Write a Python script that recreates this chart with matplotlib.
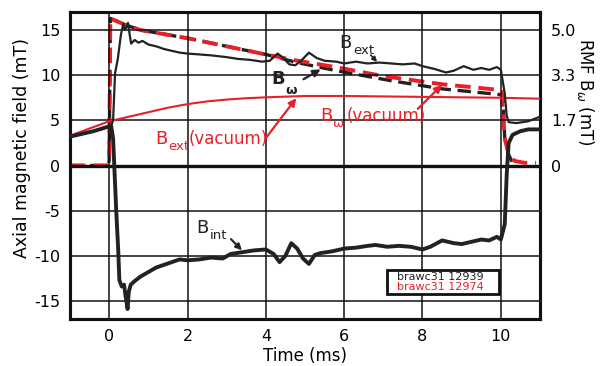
import matplotlib
matplotlib.use('Agg')
import matplotlib.pyplot as plt
from matplotlib.patches import Rectangle

plt.rcParams['axes.unicode_minus'] = False

RED = '#e8202a'
INK = '#222222'

# shot 12939: external field (thin) and internal field (thick), mT
t_ext = [-1.0, -0.7, -0.4, -0.1, 0.05, 0.10, 0.15, 0.22, 0.30, 0.36, 0.40, 0.44,
         0.48, 0.52, 0.56, 0.65, 0.75, 0.85, 1.0, 1.2, 1.4, 1.6, 1.8, 2.0, 2.3,
         2.6, 3.0, 3.3, 3.6, 3.9, 4.1, 4.3, 4.45, 4.6, 4.75, 4.9, 5.1, 5.3, 5.5,
         5.8, 6.0, 6.3, 6.6, 6.9, 7.2, 7.5, 7.8, 8.0, 8.3, 8.6, 8.8, 9.05, 9.3,
         9.5, 9.7, 9.9, 10.0, 10.1, 10.15, 10.2, 10.4, 10.7, 11.0]
b_ext = [3.2, 3.5, 3.8, 4.2, 4.4, 5.0, 10.2, 11.8, 14.5, 15.7, 15.0, 15.3,
         15.8, 14.6, 13.5, 13.9, 13.6, 13.8, 13.4, 13.2, 12.9, 12.7, 12.5, 12.4, 12.3,
         12.2, 12.0, 11.8, 11.7, 11.5, 11.6, 12.4, 11.9, 11.2, 11.1, 11.6, 12.5, 11.9, 11.6,
         11.5, 11.3, 11.5, 11.3, 11.4, 11.3, 11.2, 11.3, 11.0, 10.7, 10.3, 10.5, 11.0, 10.6,
         10.8, 10.6, 10.9, 10.6, 8.0, 5.5, 4.8, 4.7, 4.9, 5.4]

t_int = [-1.0, -0.7, -0.4, -0.1, 0.05, 0.10, 0.13, 0.18, 0.23, 0.26, 0.32, 0.38,
         0.42, 0.47, 0.50, 0.55, 0.65, 0.8, 1.0, 1.2, 1.4, 1.6, 1.8, 2.0, 2.3,
         2.6, 2.9, 3.1, 3.4, 3.7, 4.0, 4.2, 4.35, 4.5, 4.65, 4.8, 4.95, 5.1, 5.25,
         5.4, 5.7, 6.0, 6.3, 6.6, 6.8, 7.1, 7.4, 7.7, 8.0, 8.2, 8.5, 8.8, 9.0,
         9.2, 9.5, 9.7, 9.9, 10.0, 10.1, 10.15, 10.2, 10.3, 10.5, 10.7, 11.0]
b_int = [3.2, 3.5, 3.8, 4.2, 4.4, 3.0, 0.0, -5.0, -9.3, -12.7, -13.4, -13.2,
         -14.5, -15.9, -14.0, -13.2, -12.8, -12.3, -11.8, -11.3, -11.0, -10.7, -10.4, -10.5, -10.4,
         -10.2, -10.3, -9.8, -9.6, -9.4, -9.3, -9.8, -10.7, -10.0, -8.6, -9.2, -10.3, -10.9, -9.9,
         -9.7, -9.5, -9.2, -9.1, -8.9, -8.8, -9.0, -8.9, -9.0, -9.3, -9.0, -8.3, -8.6, -8.7,
         -8.5, -8.2, -8.3, -7.9, -8.2, -6.5, -1.0, 2.5, 3.4, 3.8, 4.0, 4.0]

# shot 12974 (vacuum): external field, mT
t_vac = [-1.0, -0.5, 0.0, 0.5, 1.0, 1.5, 2.0, 2.5, 3.0, 3.5, 4.0, 5.0, 6.0,
         7.0, 8.0, 9.0, 10.0, 11.0]
b_vac = [3.3, 4.1, 4.9, 5.4, 5.9, 6.4, 6.8, 7.1, 7.3, 7.45, 7.55, 7.7, 7.7,
         7.65, 7.6, 7.55, 7.5, 7.4]

# RMF amplitude, right axis units (mT)
t_rmf_vac = [-1.0, -0.05, 0.0, 0.03, 0.4, 0.8, 2.0, 3.0, 4.0, 4.8, 5.8, 7.0,
             8.5, 9.9, 10.02, 10.1, 10.2, 10.35, 10.6, 10.9]
rmf_vac = [0.0, 0.0, 0.17, 5.43, 5.2, 5.0, 4.7, 4.4, 4.1, 3.87, 3.63, 3.3,
           3.0, 2.8, 2.73, 1.0, 0.4, 0.17, 0.1, 0.1]
t_rmf = [-1.0, -0.05, 0.0, 0.03, 0.4, 0.8, 2.0, 3.0, 4.0, 4.8, 5.8, 7.2,
         8.5, 9.9, 10.05, 10.1, 10.2, 10.3]
rmf = [0.0, 0.0, 0.17, 5.43, 5.2, 5.0, 4.7, 4.4, 4.1, 3.8, 3.5, 3.13,
       2.83, 2.63, 2.6, 1.0, 0.4, 0.1]

fig = plt.figure(figsize=(6.02, 3.66), dpi=100)
ax = fig.add_axes([0.1163, 0.1284, 0.7807, 0.8388])
ax2 = ax.twinx()

ax.set_xlim(-1, 11)
ax.set_ylim(-17, 17)
ax2.set_ylim(-17 / 3, 17 / 3)

ax.set_xticks([0, 2, 4, 6, 8, 10])
ax.set_yticks([-15, -10, -5, 0, 5, 10, 15])
ax.grid(True, color='#111111', lw=1.1)
ax.axhline(0, color='#111111', lw=2.4, zorder=1)
ax.tick_params(length=0, labelsize=11.5, pad=7)
ax2.set_yticks([0, 5 / 3, 10 / 3, 5.0])
ax2.set_yticklabels(['0', '1.7', '3.3', '5.0'])
ax2.tick_params(length=0, labelsize=11.5, pad=8)
for a in (ax, ax2):
    for s in a.spines.values():
        s.set_linewidth(2.2)
        s.set_color('#111111')

ax.set_xlabel('Time (ms)', fontsize=12)
ax.xaxis.set_label_coords(0.5, -0.092)
ax.set_ylabel('Axial magnetic field (mT)', fontsize=12.5)
ax.yaxis.set_label_coords(-0.083, 0.557)
ax2.set_ylabel(r'RMF B$_{\omega}$ (mT)', fontsize=12, rotation=270, va='center')
ax2.yaxis.set_label_coords(1.096, 0.74)

# curves
ax.plot(t_vac, b_vac, color=RED, lw=1.5, zorder=3)
ax2.plot(t_rmf, rmf, color=INK, lw=2.4, ls=(0, (4, 2)), zorder=3)
ax2.plot(t_rmf_vac, rmf_vac, color=RED, lw=2.8, ls=(0, (4, 2)), zorder=4)
ax.plot(t_ext, b_ext, color=INK, lw=1.6, zorder=5)
ax.plot(t_int, b_int, color=INK, lw=2.8, zorder=5)
ax.set_zorder(ax2.get_zorder() + 1)
ax.patch.set_visible(False)

# labels
def label(x, y, main, sub, color, sub_dx, sub_dy, bold=False, tail=None, tail_dx=0.0):
    w = 'bold' if bold else 'normal'
    ax.text(x, y, main, color=color, fontsize=13, fontweight=w, zorder=6)
    ax.text(x + sub_dx, y + sub_dy, sub, color=color, fontsize=9.5, fontweight=w, zorder=6)
    if tail:
        ax.text(x + tail_dx, y, tail, color=color, fontsize=12, zorder=6)

label(5.87, 13.0, 'B', 'ext', INK, 0.36, -0.65)
ax.annotate('', xy=(6.89, 11.25), xytext=(6.63, 12.45),
            arrowprops=dict(arrowstyle='-|>', color=INK, lw=1.2, mutation_scale=7), zorder=6)

label(4.13, 9.0, 'B', 'ω', INK, 0.38, -1.1, bold=True)
ax.annotate('', xy=(5.46, 10.8), xytext=(4.9, 9.4),
            arrowprops=dict(arrowstyle='-|>', color=INK, lw=1.6, mutation_scale=11), zorder=6)

label(1.17, 2.4, 'B', 'ext', RED, 0.33, -0.65, tail='(vacuum)', tail_dx=0.85)
ax.annotate('', xy=(4.82, 7.7), xytext=(3.95, 2.75),
            arrowprops=dict(arrowstyle='-|>', color=RED, lw=1.6, mutation_scale=11), zorder=6)

label(5.38, 4.96, 'B', 'ω', RED, 0.32, -0.75, tail='(vacuum)', tail_dx=0.67)
ax.annotate('', xy=(8.55, 9.15), xytext=(7.83, 6.06),
            arrowprops=dict(arrowstyle='-|>', color=RED, lw=1.6, mutation_scale=11), zorder=6)

label(2.22, -7.5, 'B', 'int', INK, 0.36, -0.65)
ax.annotate('', xy=(3.44, -9.6), xytext=(3.06, -7.94),
            arrowprops=dict(arrowstyle='-|>', color=INK, lw=1.5, mutation_scale=9), zorder=6)

# shot legend box
ax.add_patch(Rectangle((7.09, -14.22), 2.86, 2.64, facecolor='white',
                       edgecolor='#111111', lw=2.0, zorder=7))
ax.text(8.45, -12.3, 'brawc31 12939', color=INK, fontsize=8, ha='center', va='center', zorder=8)
ax.text(8.45, -13.5, 'brawc31 12974', color=RED, fontsize=8, ha='center', va='center', zorder=8)

fig.savefig('out.png', dpi=100)
